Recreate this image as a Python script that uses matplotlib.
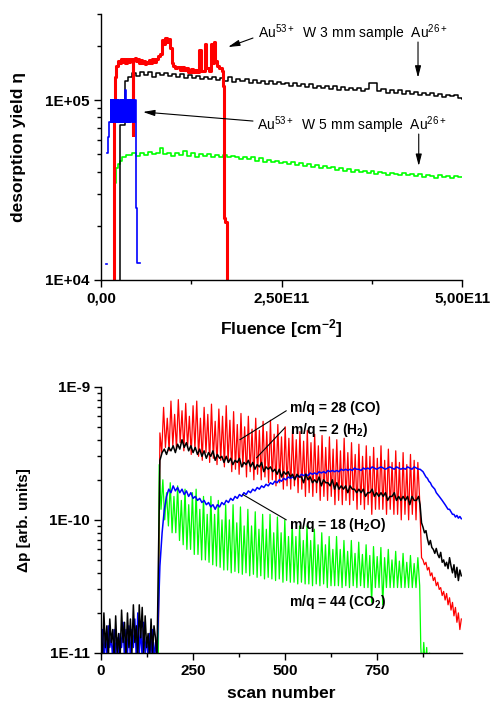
import numpy as np
import matplotlib
matplotlib.use("Agg")
import matplotlib.pyplot as plt
from matplotlib.ticker import LogLocator, NullFormatter

plt.rcParams['font.family'] = ['Liberation Sans', 'DejaVu Sans']
plt.rcParams['mathtext.fontset'] = 'custom'
plt.rcParams['mathtext.rm'] = 'Liberation Sans'
plt.rcParams['mathtext.it'] = 'Liberation Sans:italic'
plt.rcParams['mathtext.bf'] = 'Liberation Sans:bold'

# ---- top panel: desorption yield vs fluence (fluence in 1E10 cm^-2, yield in 1E4) ----
# W 3 mm sample, Au53+ (red)
red_f = [1.66, 1.80, 1.94, 2.10, 2.35, 2.6, 2.8, 3.0, 3.2, 3.4, 3.6, 3.8, 4.0, 4.2, 4.4,
         4.48, 4.7, 4.9, 5.1, 5.3, 5.5, 5.7, 5.9, 6.1, 6.3, 6.5, 6.7, 6.9, 7.1, 7.3,
         7.6, 7.9, 8.2, 8.5, 8.7, 8.9, 9.1, 9.3, 9.6, 9.8, 10.0, 10.3, 10.6, 10.9, 11.2,
         11.5, 11.8, 12.1, 12.4, 12.7, 13.0, 13.3, 13.6, 13.8, 14.1, 14.4, 14.6, 14.9, 15.2,
         15.4, 15.6, 15.8, 16.1, 16.4, 16.7, 16.9, 17.0, 17.2, 17.4]
red_y = [0.5, 8.0, 13.5, 15.5, 16.5, 16.0, 17.0, 16.2, 16.8, 16.0, 17.0, 16.3, 16.8, 16.5, 6.4,
         16.8, 17.2, 16.5, 16.8, 16.0, 16.6, 16.0, 16.5, 15.8, 16.3, 16.0, 16.6, 16.0, 16.8, 16.2,
         16.8, 17.5, 18.0, 21.5, 20.5, 22.0, 21.0, 21.8, 19.5, 16.0, 15.5, 15.0, 15.3, 14.7, 15.2,
         14.6, 15.0, 14.4, 14.8, 14.3, 14.6, 14.3, 19.0, 14.5, 14.5, 20.5, 15.0, 14.5, 20.5,
         16.0, 21.0, 16.5, 15.5, 15.0, 14.5, 12.0, 2.2, 2.1, 0.5]

# W 3 mm sample, Au26+ (black)
black_start_f = [2.63, 2.64, 3.32]
black_start_y = [0.5, 7.3, 12.8]
black_y = [13.5, 14.2, 13.6, 14.4, 13.8, 14.3, 13.5, 14.1, 13.7, 14.2,
           13.6, 14.0, 13.4, 13.9, 13.3, 13.8, 13.2, 13.6, 13.1, 13.5,
           13.0, 13.4, 12.9, 13.3, 12.8, 13.5, 12.6, 13.1, 12.7, 13.0,
           12.5, 12.9, 12.4, 12.8, 12.3, 12.7, 12.2, 12.6, 12.3, 12.5,
           12.0, 12.4, 11.9, 12.3, 11.8, 12.2, 11.7, 12.0, 11.6, 12.0,
           11.5, 11.9, 11.4, 11.8, 11.3, 11.7, 11.4, 11.6, 11.2, 11.5,
           12.5, 12.4, 11.2, 11.5, 11.0, 11.4, 10.9, 11.3, 10.8, 11.2,
           10.8, 11.1, 10.7, 11.0, 10.6, 10.9, 10.5, 10.8, 10.4, 10.7,
           10.5, 10.6, 10.3, 10.1]

# W 5 mm sample, Au53+ (blue)
blue_dot_f = [0.75, 0.88]
blue_dot_y = [1.22, 1.22]
blue_start_f = [0.83, 0.95, 1.11]
blue_start_y = [5.1, 6.2, 7.5]
blue_osc_y = [10, 7.5, 10, 7.5, 10, 7.5, 10, 7.5, 10, 7.5, 10, 7.5, 10, 7.5, 10, 7.5, 10, 7.5,
              10, 7.5, 11.4, 7.5, 10, 7.5, 10, 7.5, 10, 7.5, 10, 7.5, 10, 7.5, 10, 7.5, 10, 10]
blue_end_f = [4.81, 4.9, 4.99, 5.4]
blue_end_y = [2.5, 2.5, 1.24, 1.24]

# W 5 mm sample, Au26+ (green)
green_start_f = [1.80, 2.08, 2.35, 2.63, 2.9, 3.2, 3.46]
green_start_y = [3.46, 4.2, 4.4, 4.6, 4.8, 4.85, 4.95]
green_y = [4.95, 5.05, 4.9, 5.1, 4.95, 5.15, 5.0, 5.05, 5.4, 5.0,
           5.1, 4.9, 5.05, 4.95, 5.2, 4.9, 5.05, 4.85, 5.0, 4.9,
           5.0, 4.85, 4.95, 4.8, 4.95, 4.85, 4.9, 4.8, 4.7, 4.85,
           4.7, 4.8, 4.6, 4.75, 4.55, 4.65, 4.5, 4.6, 4.45, 4.55,
           4.4, 4.5, 4.35, 4.45, 4.3, 4.4, 4.25, 4.35, 4.2, 4.3,
           4.2, 4.25, 4.1, 4.2, 4.05, 4.15, 4.0, 4.1, 4.0, 4.05,
           3.95, 4.05, 3.9, 4.0, 3.95, 3.85, 3.95, 3.9, 3.85, 3.95,
           3.85, 3.9, 3.8, 3.9, 3.75, 3.85, 3.8, 3.7, 3.85, 3.75,
           3.8, 3.7, 3.8, 3.75, 3.75]

# ---- bottom panel: pressure rise vs scan number (values in 1E-11) ----
black_bg = [1.3, 0.9, 2.0, 1.1, 1.6, 0.9, 1.8, 1.2, 1.5, 0.9, 1.9, 1.0, 1.4, 0.9, 2.1, 1.2, 1.7,
            0.9, 2.0, 1.1, 1.8, 1.0, 2.3, 1.2, 1.6, 0.9, 2.3, 1.3, 2.2, 1.0, 1.9, 1.1, 1.4, 0.9,
            1.8, 1.0, 1.6, 1.3, 0.9]
blue_bg = [1.0, 1.5, 0.9, 1.4, 0.9, 1.6, 1.1, 1.3, 0.9, 1.5, 1.0, 1.3, 0.9, 1.4, 1.1, 1.7, 0.9,
           1.5, 1.0, 1.6, 0.9, 1.5, 1.1, 1.8, 0.9, 2.0, 1.0, 1.5, 0.9, 1.7, 1.0, 1.3, 0.9, 1.4,
           1.0, 1.5, 0.9, 1.2, 0.9]

co_main = [45, 32, 70, 35, 58, 33, 78, 36, 62, 34, 80, 38, 66, 33, 75, 35, 60, 31, 72, 34,
           78, 30, 58, 28, 70, 32, 62, 27, 74, 29, 55, 26, 68, 28, 60, 25, 72, 27, 56, 23,
           65, 24, 52, 22, 63, 25, 50, 21, 60, 23, 48, 20, 58, 22, 47, 20, 55, 21, 46, 19,
           56, 20, 44, 18, 52, 19, 42, 17, 50, 18, 41, 17, 48, 18, 40, 16, 46, 17, 39, 15,
           47, 16, 38, 15, 44, 16, 36, 14, 43, 15, 35, 14, 42, 15, 34, 13, 40, 14, 33, 13,
           41, 14, 32, 13, 38, 14, 31, 12, 37, 13, 30, 12, 36, 13, 30, 11, 35, 12, 29, 12,
           36, 12, 28, 11, 34, 12, 27, 11, 33, 11, 27, 10, 32, 11, 26, 10, 31, 11, 28, 10,
           27, 14]
co_tail = [5.2, 5.0, 4.6, 4.8, 4.2, 4.4, 3.8, 4.0, 3.5, 3.7, 3.2, 3.4, 3.0, 3.1, 2.7, 2.9,
           2.5, 2.8, 2.3, 2.6, 2.1, 2.4, 1.9, 2.2, 1.7, 2.0, 1.5, 1.8]

h2_main = [28, 32, 34, 31, 35, 33, 36, 32, 37, 34,
           40, 35, 38, 33, 36, 32, 35, 31, 34, 30,
           33, 29, 32, 30, 33, 28, 31, 29, 30, 27,
           30, 27, 29, 26, 28, 27, 29, 25, 27, 26,
           28, 25, 27, 24, 26, 25, 27, 23, 25, 24,
           25, 23, 24, 22, 24, 21, 23, 22, 23, 21,
           22, 20, 22, 21, 21, 19, 22, 20, 21, 19,
           20, 19, 21, 18, 20, 19, 19, 18, 20, 17,
           19, 17, 18, 17, 18, 16, 18, 17, 17, 16,
           17, 16, 17, 15, 16, 16, 17, 15, 16, 15,
           16, 15, 16, 14, 15, 15, 16, 14, 15, 14,
           15, 14, 15, 13, 15, 14, 14, 15]
h2_tail = [13, 9.5, 8.8, 8.0, 8.3, 7.2, 6.5, 7.0, 6.2, 6.0, 5.6, 6.1, 5.5, 5.2, 5.7, 4.8,
           5.0, 4.5, 4.8, 4.3, 5.2, 4.5, 4.0, 4.6, 3.7, 4.4, 3.5, 4.2, 3.8]

h2o_main = [4.5, 8, 12, 15, 17, 16, 18, 16.5, 17.5, 16,
            17, 15.5, 16.5, 15, 16, 14.5, 15, 14, 14.5, 13.5,
            14, 13, 13.5, 12.5, 13, 12, 13, 12.5, 13.5, 13,
            14, 13.5, 14.5, 14, 15, 14.5, 15.5, 15, 16, 15.5,
            16.5, 16, 17, 16.5, 17.5, 17, 18, 17.5, 18.5, 18,
            19, 18.5, 19.5, 19, 20, 19.5, 20.5, 20, 21, 20.5,
            21, 20.5, 21.5, 21, 22, 21.5, 22, 21.5, 22.5, 22,
            22.5, 22, 23, 22.5, 23, 22.5, 23.5, 23, 23.5, 23,
            23.5, 23, 24, 23.5, 24, 23.5, 24, 23.5, 24.5, 24,
            24, 23.5, 24.5, 24, 24.5, 24, 25, 24.5, 24, 24.5,
            25, 24.5, 24, 24.5, 25, 24.5, 24, 25, 24.5, 24,
            24.5, 24, 25, 24.5, 24, 25, 24.5, 24]
h2o_tail = [24, 23.5, 23, 22, 21, 20.5, 19.5, 19, 18, 17.5, 17, 16, 15.5, 15, 14.5, 14,
            13.5, 13, 12.5, 12, 12, 11.5, 11, 11, 10.5, 10.8, 10.3, 10.6, 10.2]

co2_main = [26, 12, 20, 10, 16, 9, 19, 8, 15, 8, 18, 7, 14, 6.5, 17, 6, 13, 6, 16, 5.5,
            17, 5.5, 12, 5, 15, 5, 11, 4.8, 15, 4.6, 11, 4.5, 14, 4.4, 10, 4.2, 13, 4.2, 10, 4,
            13, 4.1, 9.5, 4, 12.5, 3.9, 9, 4, 12, 3.8, 9, 3.9, 11.5, 3.7, 8.5, 3.8, 11, 3.6, 8.5, 3.7,
            11, 3.6, 8, 3.5, 10.5, 3.6, 8, 3.4, 10, 3.5, 7.5, 3.4, 9.5, 3.4, 7.5, 3.3, 9, 3.4, 7, 3.3,
            9, 3.3, 7, 3.2, 8.5, 3.3, 6.5, 3.2, 8, 3.3, 6.5, 3.1, 7.5, 3.2, 6, 3.2, 7.5, 3.2, 6, 3.1,
            7, 3.2, 5.8, 3.1, 7, 3.2, 5.6, 3.1, 6.8, 3.2, 5.5, 3.1, 6.5, 3.1, 5.4, 2.4, 6.3, 3.1, 5.3, 3.1,
            6.2, 2.3, 5.2, 3.1, 6, 3.1, 5, 3.1, 5.8, 3.1, 4.9, 3.1, 5.6, 3.1, 4.8, 3.1, 5.4, 3.1, 4.7, 3.1,
            5.2, 3.2]
co2_tail = [1.1, 0.7, 1.2, 0.8, 1.1, 0.6, 1.0, 0.5, 0.5]


def style_axes(ax):
    ax.spines['top'].set_visible(False)
    ax.spines['right'].set_visible(False)
    for s in ['left', 'bottom']:
        ax.spines[s].set_linewidth(1.0)
    ax.tick_params(which='both', direction='out', width=1.0, labelsize=11, pad=3)
    ax.tick_params(which='major', length=5)
    ax.tick_params(which='minor', length=3)


fig = plt.figure(figsize=(4.9, 7.07), dpi=100)

# ---------------- top ----------------
ax1 = fig.add_axes([0.206, 0.604, 0.737, 0.376])
ax1.set_yscale('log')

bf = np.concatenate([black_start_f, np.linspace(3.7, 50, len(black_y))])
by = np.concatenate([black_start_y, black_y])
gf = np.concatenate([green_start_f, np.linspace(3.7, 50, len(green_y))])
gy = np.concatenate([green_start_y, green_y])
uf = np.concatenate([blue_dot_f, [np.nan], blue_start_f,
                     np.linspace(1.34, 4.78, len(blue_osc_y)), blue_end_f])
uy = np.concatenate([blue_dot_y, [np.nan], blue_start_y, blue_osc_y, blue_end_y])

ax1.plot(np.array(gf) * 1e10, np.array(gy) * 1e4, color='#00ff00', lw=1.2, drawstyle='steps-post')
ax1.plot(bf * 1e10, by * 1e4, color='black', lw=1.1, drawstyle='steps-post')
ax1.plot(np.array(red_f) * 1e10, np.array(red_y) * 1e4, color='red', lw=2.2, drawstyle='steps-post')
ax1.plot(uf * 1e10, uy * 1e4, color='blue', lw=1.2, drawstyle='steps-post')

ax1.set_xlim(0, 5e11)
ax1.set_ylim(1e4, 3e5)
ax1.set_xticks([0, 2.5e11, 5e11])
ax1.set_xticks([1.25e11, 3.75e11], minor=True)
ax1.set_xticklabels(['0,00', '2,50E11', '5,00E11'], fontweight='bold')
ax1.set_yticks([1e4, 1e5])
ax1.set_yticklabels(['1E+04', '1E+05'], fontweight='bold')
ax1.yaxis.set_minor_locator(LogLocator(base=10, subs=range(2, 10)))
ax1.yaxis.set_minor_formatter(NullFormatter())
style_axes(ax1)
ax1.set_xlabel(r'Fluence [cm$^{\mathbf{-2}}$]', fontsize=12.5, fontweight='bold', labelpad=9)
ax1.set_ylabel('desorption yield η', fontsize=12.5, fontweight='bold', labelpad=14)

arrow = dict(arrowstyle='-|>,head_length=0.7,head_width=0.18', color='black', lw=0.8,
             shrinkA=0, shrinkB=0)
ax1.annotate('', xy=(1.76e11, 1.97e5), xytext=(2.105e11, 2.21e5), arrowprops=arrow)
ax1.annotate('', xy=(5.82e10, 8.58e4), xytext=(2.105e11, 7.64e4), arrowprops=arrow)
ax1.annotate('', xy=(4.39e11, 1.33e5), xytext=(4.39e11, 2.1e5), arrowprops=arrow)
ax1.annotate('', xy=(4.40e11, 4.3e4), xytext=(4.40e11, 6.47e4), arrowprops=arrow)
ax1.text(2.17e11, 2.34e5, r'Au$^{53+}$  W 3 mm sample  Au$^{26+}$', fontsize=10, va='center')
ax1.text(2.16e11, 7.27e4, r'Au$^{53+}$  W 5 mm sample  Au$^{26+}$', fontsize=10, va='center')

# ---------------- bottom ----------------
ax2 = fig.add_axes([0.206, 0.0764, 0.737, 0.3766])
ax2.set_yscale('log')

bg_scan = np.linspace(0, 152, len(black_bg))
co_x = np.concatenate([[155], np.linspace(160, 865, len(co_main)), np.linspace(870, 978, len(co_tail))])
co_v = np.concatenate([[0.5], co_main, co_tail])
h2_x = np.concatenate([bg_scan, np.linspace(160, 862, len(h2_main)), np.linspace(866, 978, len(h2_tail))])
h2_v = np.concatenate([black_bg, h2_main, h2_tail])
h2o_x = np.concatenate([bg_scan, np.linspace(160, 862, len(h2o_main)), np.linspace(866, 978, len(h2o_tail))])
h2o_v = np.concatenate([blue_bg, h2o_main, h2o_tail])
co2_x = np.concatenate([[155], np.linspace(158, 865, len(co2_main)), np.linspace(868, 900, len(co2_tail))])
co2_v = np.concatenate([[0.5], co2_main, co2_tail])

ax2.plot(co_x, co_v * 1e-11, color='red', lw=0.9)
ax2.plot(co2_x, co2_v * 1e-11, color='#00ff00', lw=0.9)
ax2.plot(h2o_x, h2o_v * 1e-11, color='blue', lw=1.1)
ax2.plot(h2_x, h2_v * 1e-11, color='black', lw=1.1)

ax2.set_xlim(0, 980)
ax2.set_ylim(1e-11, 1e-9)
ax2.set_xticks([0, 250, 500, 750])
ax2.set_xticks([125, 375, 625, 875], minor=True)
ax2.set_xticklabels(['0', '250', '500', '750'], fontweight='bold')
ax2.set_yticks([1e-11, 1e-10, 1e-9])
ax2.set_yticklabels(['1E-11', '1E-10', '1E-9'], fontweight='bold')
ax2.yaxis.set_minor_locator(LogLocator(base=10, subs=range(2, 10)))
ax2.yaxis.set_minor_formatter(NullFormatter())
style_axes(ax2)
ax2.set_xlabel('scan number', fontsize=12.5, fontweight='bold', labelpad=6)
ax2.set_ylabel('Δp [arb. units]', fontsize=11, fontweight='bold', labelpad=13)

lead = dict(arrowstyle='-', color='black', lw=0.8, shrinkA=0, shrinkB=0)
ax2.annotate('', xy=(377, 4.0e-10), xytext=(503, 6.6e-10), arrowprops=lead)
ax2.annotate('', xy=(422, 2.92e-10), xytext=(499, 4.91e-10), arrowprops=lead)
ax2.annotate('', xy=(385, 1.55e-10), xytext=(503, 1.0e-10), arrowprops=lead)
ax2.text(512, 6.87e-10, 'm/q = 28 (CO)', fontsize=10, fontweight='bold', va='center')
ax2.text(512, 4.77e-10, r'm/q = 2 (H$_\mathbf{2}$)', fontsize=10, fontweight='bold', va='center')
ax2.text(510, 9.17e-11, r'm/q = 18 (H$_\mathbf{2}$O)', fontsize=10, fontweight='bold', va='center')
ax2.text(510, 2.41e-11, r'm/q = 44 (CO$_\mathbf{2}$)', fontsize=10, fontweight='bold', va='center')

fig.savefig('out.png', dpi=100)
